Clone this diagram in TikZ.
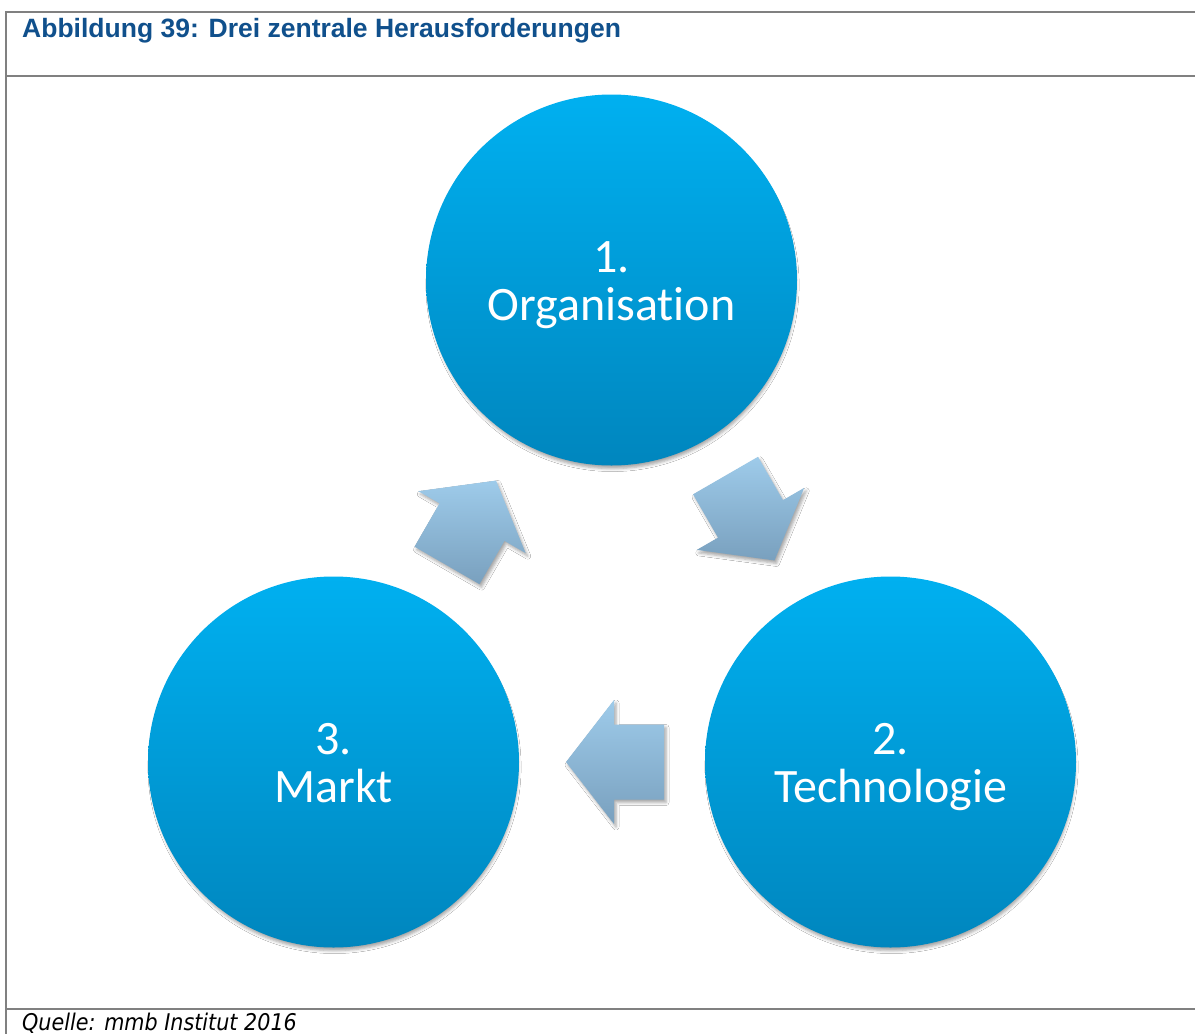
\documentclass[tikz,border=0pt]{standalone}
\usepackage{fontspec}
\setmainfont{Liberation Sans}
\newfontfamily\labelfont[Ligatures=NoCommon]{Carlito}
\newfontfamily\sourcefont[FakeStretch=0.9]{DejaVu Sans}
\usetikzlibrary{shadows.blur}

\definecolor{framegray}{RGB}{128,128,128}
\definecolor{titleblue}{RGB}{16,80,140}
\definecolor{circtop}{RGB}{0,176,240}
\definecolor{circbot}{RGB}{0,134,190}
\definecolor{arrtop}{RGB}{158,203,234}
\definecolor{arrbot}{RGB}{121,160,190}

\tikzset{
  frameline/.style={draw=framegray, line width=2pt},
  topic/.style={circle, minimum size=371pt, inner sep=0pt, draw=none,
    top color=circtop, bottom color=circbot,
    blur shadow={shadow xshift=1pt, shadow yshift=-5pt, shadow scale=0.99,
      shadow blur radius=3pt, shadow opacity=35}},
  topiclabel/.style={align=center, text=white, inner sep=0pt,
    font=\labelfont\fontsize{48}{48}\selectfont},
  blockarrow/.style={draw=none, top color=arrtop, bottom color=arrbot,
    blur shadow={shadow xshift=2pt, shadow yshift=-3pt, shadow blur radius=3pt, shadow opacity=35}},
  pics/flowarrow/.style={code={
    \path[blockarrow] (-49,-37.5) -- (1,-37.5) -- (1,-62) -- (49,0)
      -- (1,62) -- (1,37.5) -- (-49,37.5) -- cycle;}},
}

\begin{document}
\begin{tikzpicture}[x=1pt, y=-1pt]
  % page area
  \useasboundingbox (0,0) rectangle (1195,1034);
  \fill[white] (0,0) rectangle (1195,1034);

  % frame of the figure
  \draw[frameline] (6,12) -- (1196,12);
  \draw[frameline] (6,76) -- (1196,76);
  \draw[frameline] (6,1009) -- (1196,1009);
  \draw[frameline] (6,11) -- (6,1035);

  % caption and source
  \node[anchor=base west, inner sep=0pt, text=titleblue,
        font=\bfseries\fontsize{26.5}{30}\selectfont] (title) at (22,37)
        {Abbildung 39: Drei zentrale Herausforderungen};
  \node[anchor=base west, inner sep=0pt,
        font=\sourcefont\itshape\fontsize{23}{26}\selectfont] (source) at (22,1030)
        {Quelle: mmb Institut 2016};

  % the three challenges
  \node[topic] (org) at (611.5,280) {};
  \node[topic] (tech) at (890.5,762) {};
  \node[topic] (markt) at (333.5,762) {};

  \node[topiclabel] (orgtext) at (org)
    {\rule{0pt}{42pt}1.\\Organisation\rule[-10pt]{0pt}{10pt}};
  \node[topiclabel] (techtext) at (tech)
    {\rule{0pt}{42pt}2.\\Technologie\rule[-10pt]{0pt}{10pt}};
  \node[topiclabel] (markttext) at (markt)
    {\rule{0pt}{42pt}3.\\Markt\rule[-10pt]{0pt}{10pt}};

  % cycle arrows
  \pic[rotate=-60] (a1) at (750,518) {flowarrow};
  \pic[rotate=180] (a2) at (615,762) {flowarrow};
  \pic[rotate=60] (a3) at (471.5,523) {flowarrow};
\end{tikzpicture}
\end{document}
